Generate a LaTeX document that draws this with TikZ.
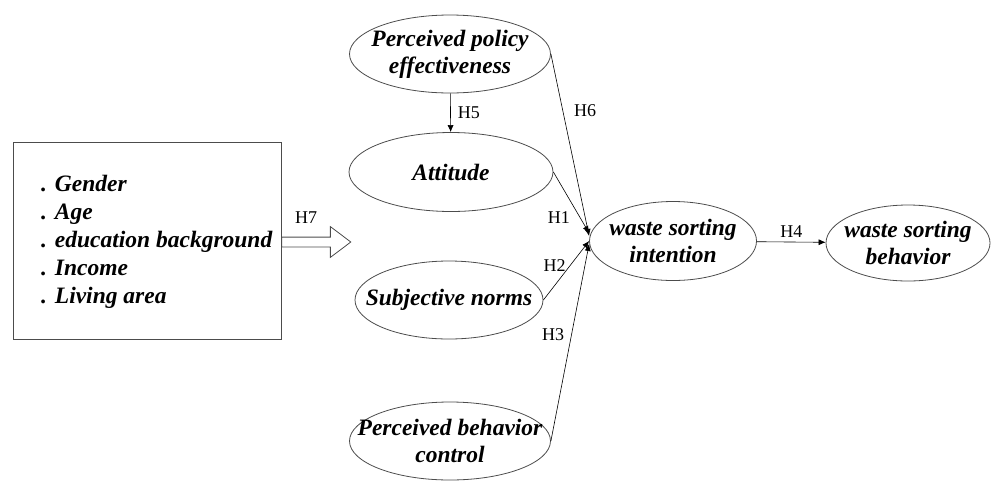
\documentclass[tikz,border=0pt]{standalone}
\usepackage{fontspec}
\setmainfont{Liberation Serif}
\usetikzlibrary{shapes.geometric,shapes.arrows,arrows.meta,positioning}
\begin{document}
\begin{tikzpicture}[
x=1pt, y=-1pt,
vtext/.style={inner sep=0pt, align=center, font=\fontsize{23.5}{27}\selectfont\bfseries\itshape},
var/.style={ellipse, draw=black!70, line width=0.8pt, inner sep=0pt, label={[vtext]center:#1}},
path/.style={-{Latex[length=7pt,width=6pt]}, line width=0.6pt},
hyp/.style={font=\fontsize{18}{20}\selectfont, inner sep=1pt}
]
\useasboundingbox (0,0) rectangle (993,480);
% control variables
\node[rectangle, draw=black!70, line width=0.8pt, minimum width=268pt, minimum height=197pt] (ctrl) at (147,240.5) {};
\node[anchor=north west, align=left, inner sep=0pt,
  font=\fontsize{23.5}{28}\selectfont\bfseries\itshape] (items) at (41,175)
  {. Gender\\. Age\\. education background\\. Income\\. Living area};
\node[single arrow, draw=black!70, line width=0.8pt, anchor=tail, inner xsep=0pt, inner ysep=4.5pt,
  minimum height=69pt, single arrow head extend=10.5pt,
  single arrow tip angle=74] (effect) at (ctrl.east |- 0,242) {};
\node[hyp] (h7) at (306,218) {H7};
% latent variables
\node[var={{Perceived policy\\effectiveness}}, minimum width=201pt, minimum height=78pt] (ppe) at (450,54) {};
\node[var=Attitude, minimum width=204pt, minimum height=79pt] (att) at (451,172) {};
\node[var={Subjective norms}, minimum width=188pt, minimum height=78pt] (sn) at (449,300) {};
\node[var={{Perceived behavior\\control}}, minimum width=201pt, minimum height=78pt] (pbc) at (450,441) {};
\node[var={{waste sorting\\intention}}, minimum width=167pt, minimum height=79pt] (wsi) at (673,241) {};
\node[var={{waste sorting\\behavior}}, minimum width=164pt, minimum height=76pt] (wsb) at (908,243) {};
% hypotheses
\draw[path] (ppe) -- node[hyp, right=6pt] (h5) {H5} (att);
\draw[path] (ppe.east) -- node[hyp, pos=0.31, right=10pt] (h6) {H6} ([yshift=5pt]wsi.west);
\draw[path] (att.east) -- node[hyp, pos=0.75, left=9pt] (h1) {H1} ([yshift=8pt]wsi.west);
\draw[path] (sn.east) -- node[hyp, pos=0.58, left=3pt] (h2) {H2} ([yshift=0pt]wsi.west);
\draw[path] (pbc.east) -- node[hyp, pos=0.54, left=6pt] (h3) {H3} ([yshift=-3pt]wsi.west);
\draw[path] (wsi) -- node[hyp, above=3pt] (h4) {H4} (wsb);
\end{tikzpicture}
\end{document}
